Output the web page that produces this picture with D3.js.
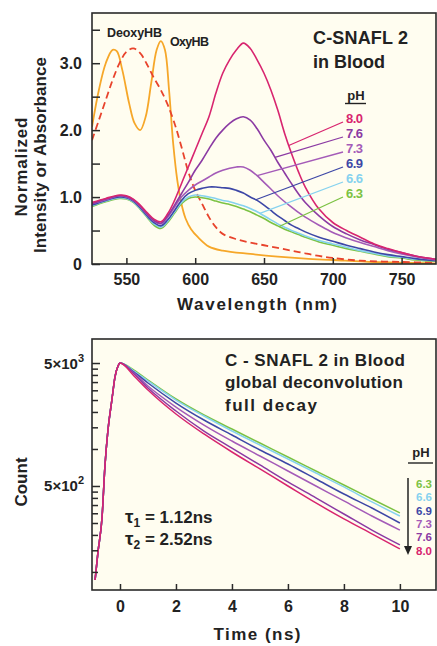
<!DOCTYPE html>
<html><head><meta charset="utf-8">
<script src="https://cdn.jsdelivr.net/npm/d3@7"></script>
<style>
body{margin:0;background:#fff;}
svg text{font-family:"Liberation Sans",Arial,sans-serif;font-weight:bold;fill:#222;}
</style></head><body><svg id="c" width="437" height="646"></svg>
<script>
// ---------------- DATA ----------------
const phLabels = ["8.0","7.6","7.3","6.9","6.6","6.3"];
const phColors = ["#d8256f","#8b3aa3","#a45bb8","#3d47a6","#86d2ef","#7cc243"];

// top panel: emission spectra (normalized intensity)
const wl = [525,535,545,550,555,560,565,570,575,580,585,590,595,600,605,610,615,620,625,630,635,640,645,650,655,660,665,670,675,680,690,700,710,720,730,740,750,760,775];
const em80 = [0.92,0.98,1.03,1.02,0.97,0.88,0.77,0.67,0.63,0.75,0.95,1.2,1.45,1.7,1.95,2.2,2.55,2.85,3.05,3.2,3.3,3.22,3.05,2.85,2.6,2.3,1.95,1.65,1.38,1.15,0.82,0.62,0.5,0.4,0.3,0.23,0.17,0.12,0.07];
const em76 = [0.9,0.97,1.02,1.01,0.96,0.87,0.75,0.65,0.61,0.72,0.88,1.05,1.22,1.4,1.55,1.72,1.88,2.0,2.1,2.17,2.2,2.15,2.02,1.85,1.7,1.52,1.36,1.2,1.05,0.92,0.72,0.56,0.45,0.36,0.29,0.22,0.17,0.12,0.07];
const em73 = [0.9,0.96,1.02,1.0,0.95,0.86,0.74,0.64,0.6,0.7,0.85,1.0,1.1,1.18,1.24,1.3,1.36,1.4,1.43,1.45,1.45,1.4,1.32,1.22,1.12,1.02,0.93,0.85,0.77,0.7,0.58,0.47,0.39,0.32,0.26,0.2,0.15,0.11,0.06];
const em69 = [0.88,0.95,1.0,0.99,0.94,0.84,0.72,0.62,0.57,0.66,0.8,0.95,1.05,1.1,1.13,1.15,1.15,1.14,1.13,1.1,1.06,1.0,0.95,0.88,0.8,0.72,0.65,0.58,0.53,0.48,0.4,0.34,0.28,0.23,0.18,0.14,0.11,0.08,0.05];
const em66 = [0.87,0.94,0.99,0.98,0.93,0.83,0.71,0.6,0.55,0.64,0.78,0.92,1.0,1.03,1.02,1.0,0.98,0.95,0.93,0.9,0.87,0.83,0.78,0.72,0.66,0.6,0.55,0.5,0.46,0.42,0.35,0.3,0.25,0.2,0.16,0.12,0.1,0.07,0.05];
const em63 = [0.86,0.93,0.98,0.97,0.92,0.82,0.7,0.58,0.53,0.62,0.76,0.9,0.98,1.0,0.99,0.97,0.94,0.91,0.89,0.86,0.82,0.78,0.73,0.68,0.62,0.57,0.52,0.48,0.44,0.4,0.33,0.28,0.23,0.19,0.15,0.11,0.09,0.06,0.04];
const emission = [em80,em76,em73,em69,em66,em63];

// absorbance spectra
const oxyWl  = [525,530,535,540,543,547,552,556,560,564,568,572,575,578,581,584,587,590,593,597,602,610,620,640,660,680,700,730,775];
const oxyAbs = [2.05,2.6,3.0,3.2,3.18,2.9,2.4,2.1,2.0,2.2,2.7,3.2,3.33,3.2,2.6,1.8,1.25,0.9,0.68,0.52,0.4,0.26,0.2,0.15,0.11,0.08,0.06,0.03,0.01];
const deoxyWl  = [525,530,535,540,545,550,555,560,565,570,575,580,585,590,595,600,605,610,615,620,630,640,650,660,670,680,690,700,720,750,775];
const deoxyAbs = [1.85,2.15,2.45,2.75,3.0,3.17,3.22,3.15,2.98,2.78,2.6,2.38,2.1,1.75,1.38,1.1,0.9,0.7,0.55,0.45,0.37,0.32,0.28,0.24,0.2,0.16,0.12,0.09,0.05,0.03,0.02];

// legend leader targets (wavelength on each curve)
const leaderWl = [668,658,645,644,647,661];

// top axis ticks
const wlTicks = [550,600,650,700,750];
const absTicks = [0,0.5,1,1.5,2,2.5,3,3.5];
const absLabels = {0:"0",1:"1.0",2:"2.0",3:"3.0"};

// bottom panel: fluorescence decays (counts)
const riseTimes  = [-0.89,-0.79,-0.64,-0.54,-0.43,-0.29,-0.18,-0.07,0];
const riseCounts = [86,143,280,714,1426,2501,3847,4727,5000];
const decayTimes = [0.5,1,2,3,4,5,6,7,8,9,10];
const dc80 = [3920,3016,1925,1324,945,688,500,364,270,204,154];
const dc76 = [4070,3131,2036,1400,1018,741,539,400,296,219,166];
const dc73 = [4146,3252,2194,1566,1161,877,662,500,378,285,219];
const dc69 = [4225,3439,2365,1720,1299,981,755,570,430,331,250];
const dc66 = [4305,3570,2501,1854,1400,1077,829,638,491,371,285];
const dc63 = [4385,3637,2549,1889,1453,1118,861,662,509,392,302];
const decays = [dc80,dc76,dc73,dc69,dc66,dc63];

const timeTicks = [0,2,4,6,8,10];
const countMinor = [4500,4000,3500,3000,2500,2000,1500,1000,450,400,350,300,250,200,150,100];
const countMajor = [5000,500];
const countLabels = {5000:["5×10","3"],500:["5×10","2"]};

// ---------------- DRAW ----------------
const svg = d3.select("#c");
const cream = "#fffdf0", frame = "#2a2a2a";

// ===== TOP PANEL =====
const T = {l:92,r:436,t:13,b:264};
const xT = d3.scaleLinear([525,775],[T.l,T.r]);
const yT = d3.scaleLinear([0,3.75],[T.b,T.t]);
svg.append("rect").attr("x",T.l).attr("y",T.t).attr("width",T.r-T.l).attr("height",T.b-T.t).attr("fill",cream);
svg.append("clipPath").attr("id","clipT").append("rect").attr("x",T.l).attr("y",T.t).attr("width",T.r-T.l).attr("height",T.b-T.t);
const gT = svg.append("g").attr("clip-path","url(#clipT)");
const lineT = d3.line().x(d=>xT(d[0])).y(d=>yT(d[1])).curve(d3.curveCatmullRom.alpha(0.5));

gT.append("path").datum(d3.zip(oxyWl,oxyAbs)).attr("d",lineT).attr("fill","none").attr("stroke","#f6a729").attr("stroke-width",1.8);
gT.append("path").datum(d3.zip(deoxyWl,deoxyAbs)).attr("d",lineT).attr("fill","none").attr("stroke","#e8432c").attr("stroke-width",1.8).attr("stroke-dasharray","7,4");
for (let i=emission.length-1;i>=0;i--){
  gT.append("path").datum(d3.zip(wl,emission[i])).attr("d",lineT).attr("fill","none").attr("stroke",phColors[i]).attr("stroke-width",1.6);
}

// axes
const axTx = d3.axisBottom(xT).tickValues(wlTicks).tickSizeInner(-6).tickSizeOuter(0).tickPadding(10).tickFormat(d3.format("d"));
const gax1 = svg.append("g").attr("transform",`translate(0,${T.b})`).call(axTx);
const axTy = d3.axisLeft(yT).tickValues(absTicks).tickSizeInner(-8).tickSizeOuter(0).tickPadding(10).tickFormat(d=>absLabels[d]||"");
const gax2 = svg.append("g").attr("transform",`translate(${T.l},0)`).call(axTy);
[gax1,gax2].forEach(g=>{g.select(".domain").remove();g.selectAll("line").attr("stroke",frame).attr("stroke-width",1.5);g.selectAll("text").attr("font-size",16).attr("fill","#222").style("font-family","Liberation Sans, Arial, sans-serif").style("font-weight","bold");});
svg.append("rect").attr("x",T.l).attr("y",T.t).attr("width",T.r-T.l).attr("height",T.b-T.t).attr("fill","none").attr("stroke",frame).attr("stroke-width",1.6);

// labels
svg.append("text").attr("x",257).attr("y",310).attr("text-anchor","middle").attr("font-size",17).attr("textLength",160).attr("lengthAdjust","spacing").text("Wavelength (nm)");
svg.append("text").attr("transform","translate(27,167) rotate(-90)").attr("text-anchor","middle").attr("font-size",17).attr("textLength",99).attr("lengthAdjust","spacing").text("Normalized");
svg.append("text").attr("transform","translate(46,155) rotate(-90)").attr("text-anchor","middle").attr("font-size",17).attr("textLength",196).attr("lengthAdjust","spacing").text("Intensity or Absorbance");
svg.append("text").attr("x",313).attr("y",44).attr("font-size",18).attr("textLength",95).attr("lengthAdjust","spacing").text("C-SNAFL 2");
svg.append("text").attr("x",313).attr("y",68).attr("font-size",18).attr("textLength",72).attr("lengthAdjust","spacing").text("in Blood");
svg.append("text").attr("x",107).attr("y",37).attr("font-size",12.5).attr("textLength",55).attr("lengthAdjust","spacing").text("DeoxyHB");
svg.append("text").attr("x",170).attr("y",46).attr("font-size",12.5).attr("textLength",39).attr("lengthAdjust","spacing").text("OxyHB");

// legend top
svg.append("text").attr("x",356).attr("y",100).attr("text-anchor","middle").attr("font-size",13).text("pH");
svg.append("line").attr("x1",345).attr("x2",366).attr("y1",103.5).attr("y2",103.5).attr("stroke","#222").attr("stroke-width",1.4);
function interp(xs,ys,x){const i=d3.bisectLeft(xs,x);if(i<=0)return ys[0];const t=(x-xs[i-1])/(xs[i]-xs[i-1]);return ys[i-1]+t*(ys[i]-ys[i-1]);}
phLabels.forEach((lab,i)=>{
  const cy = 118 + i*15;
  svg.append("text").attr("x",346).attr("y",cy+4.5).attr("font-size",13).attr("fill",phColors[i]).style("fill",phColors[i]).attr("textLength",17).attr("lengthAdjust","spacing").text(lab);
  svg.append("line").attr("x1",343).attr("y1",cy+4).attr("x2",xT(leaderWl[i])).attr("y2",yT(interp(wl,emission[i],leaderWl[i])))
    .attr("stroke",phColors[i]).attr("stroke-width",1.3);
});

// ===== BOTTOM PANEL =====
const B = {l:92,r:436,t:339,b:590};
const xB = d3.scaleLinear([-1,11.29],[B.l,B.r]);
const yB = d3.scaleLog([71.3,7840],[B.b,B.t]);
svg.append("rect").attr("x",B.l).attr("y",B.t).attr("width",B.r-B.l).attr("height",B.b-B.t).attr("fill",cream);
svg.append("clipPath").attr("id","clipB").append("rect").attr("x",B.l).attr("y",B.t).attr("width",B.r-B.l).attr("height",B.b-B.t);
const gB = svg.append("g").attr("clip-path","url(#clipB)");
const lineB = d3.line().x(d=>xB(d[0])).y(d=>yB(d[1])).curve(d3.curveMonotoneX);
for (let i=decays.length-1;i>=0;i--){
  const pts = d3.zip(riseTimes.concat(decayTimes), riseCounts.concat(decays[i]));
  gB.append("path").datum(pts).attr("d",lineB).attr("fill","none").attr("stroke",phColors[i]).attr("stroke-width",1.5);
}
const axBx = d3.axisBottom(xB).tickValues(timeTicks).tickSizeInner(-6).tickSizeOuter(0).tickPadding(11).tickFormat(d3.format("d"));
const gax3 = svg.append("g").attr("transform",`translate(0,${B.b})`).call(axBx);
const axByMinor = d3.axisLeft(yB).tickValues(countMinor).tickSizeInner(-6).tickSizeOuter(0).tickFormat("");
const gax4 = svg.append("g").attr("transform",`translate(${B.l},0)`).call(axByMinor);
const axByMajor = d3.axisLeft(yB).tickValues(countMajor).tickSizeInner(-8).tickSizeOuter(0).tickPadding(8).tickFormat("");
const gax5 = svg.append("g").attr("transform",`translate(${B.l},0)`).call(axByMajor);
[gax3,gax4,gax5].forEach(g=>{g.select(".domain").remove();g.selectAll("line").attr("stroke",frame).attr("stroke-width",1.5);g.selectAll("text").attr("font-size",16).attr("fill","#222").style("font-family","Liberation Sans, Arial, sans-serif").style("font-weight","bold");});
countMajor.forEach(v=>{
  const t = svg.append("text").attr("x",B.l-8).attr("y",yB(v)+5.5).attr("text-anchor","end").attr("font-size",15);
  t.append("tspan").text(countLabels[v][0]);
  t.append("tspan").attr("dy",-7).attr("font-size",11).text(countLabels[v][1]);
});
svg.append("rect").attr("x",B.l).attr("y",B.t).attr("width",B.r-B.l).attr("height",B.b-B.t).attr("fill","none").attr("stroke",frame).attr("stroke-width",1.6);

svg.append("text").attr("x",257).attr("y",640).attr("text-anchor","middle").attr("font-size",17).attr("textLength",87).attr("lengthAdjust","spacing").text("Time (ns)");
svg.append("text").attr("transform","translate(27,482) rotate(-90)").attr("text-anchor","middle").attr("font-size",17).text("Count");
svg.append("text").attr("x",225).attr("y",366).attr("font-size",17).attr("textLength",180).attr("lengthAdjust","spacing").text("C - SNAFL 2  in  Blood");
svg.append("text").attr("x",225).attr("y",388).attr("font-size",17).attr("textLength",178).attr("lengthAdjust","spacing").text("global deconvolution");
svg.append("text").attr("x",225).attr("y",411).attr("font-size",17).attr("textLength",92).attr("lengthAdjust","spacing").text("full decay");
[["1","1.12"],["2","2.52"]].forEach((d,i)=>{
  const t = svg.append("text").attr("x",125).attr("y",523+i*22).attr("font-size",17);
  t.append("tspan").attr("font-size",19).text("τ");
  t.append("tspan").attr("dy",4).attr("font-size",12).text(d[0]);
  t.append("tspan").attr("dy",-4).text(" = "+d[1]+"ns");
});
// legend bottom
svg.append("text").attr("x",421).attr("y",457).attr("text-anchor","middle").attr("font-size",13).text("pH");
svg.append("line").attr("x1",408).attr("x2",433).attr("y1",463).attr("y2",463).attr("stroke","#222").attr("stroke-width",1.4);
const revOrder = [5,4,3,2,1,0];
revOrder.forEach((i,k)=>{
  svg.append("text").attr("x",432).attr("y",484+k*13.3+4).attr("text-anchor","end").attr("font-size",11.5).attr("fill",phColors[i]).style("fill",phColors[i]).text(phLabels[i]);
});
svg.append("line").attr("x1",408).attr("x2",408).attr("y1",478).attr("y2",547).attr("stroke","#222").attr("stroke-width",1.5);
svg.append("path").attr("d","M404,546 L412,546 L408,555 Z").attr("fill","#222");
</script></body></html>
